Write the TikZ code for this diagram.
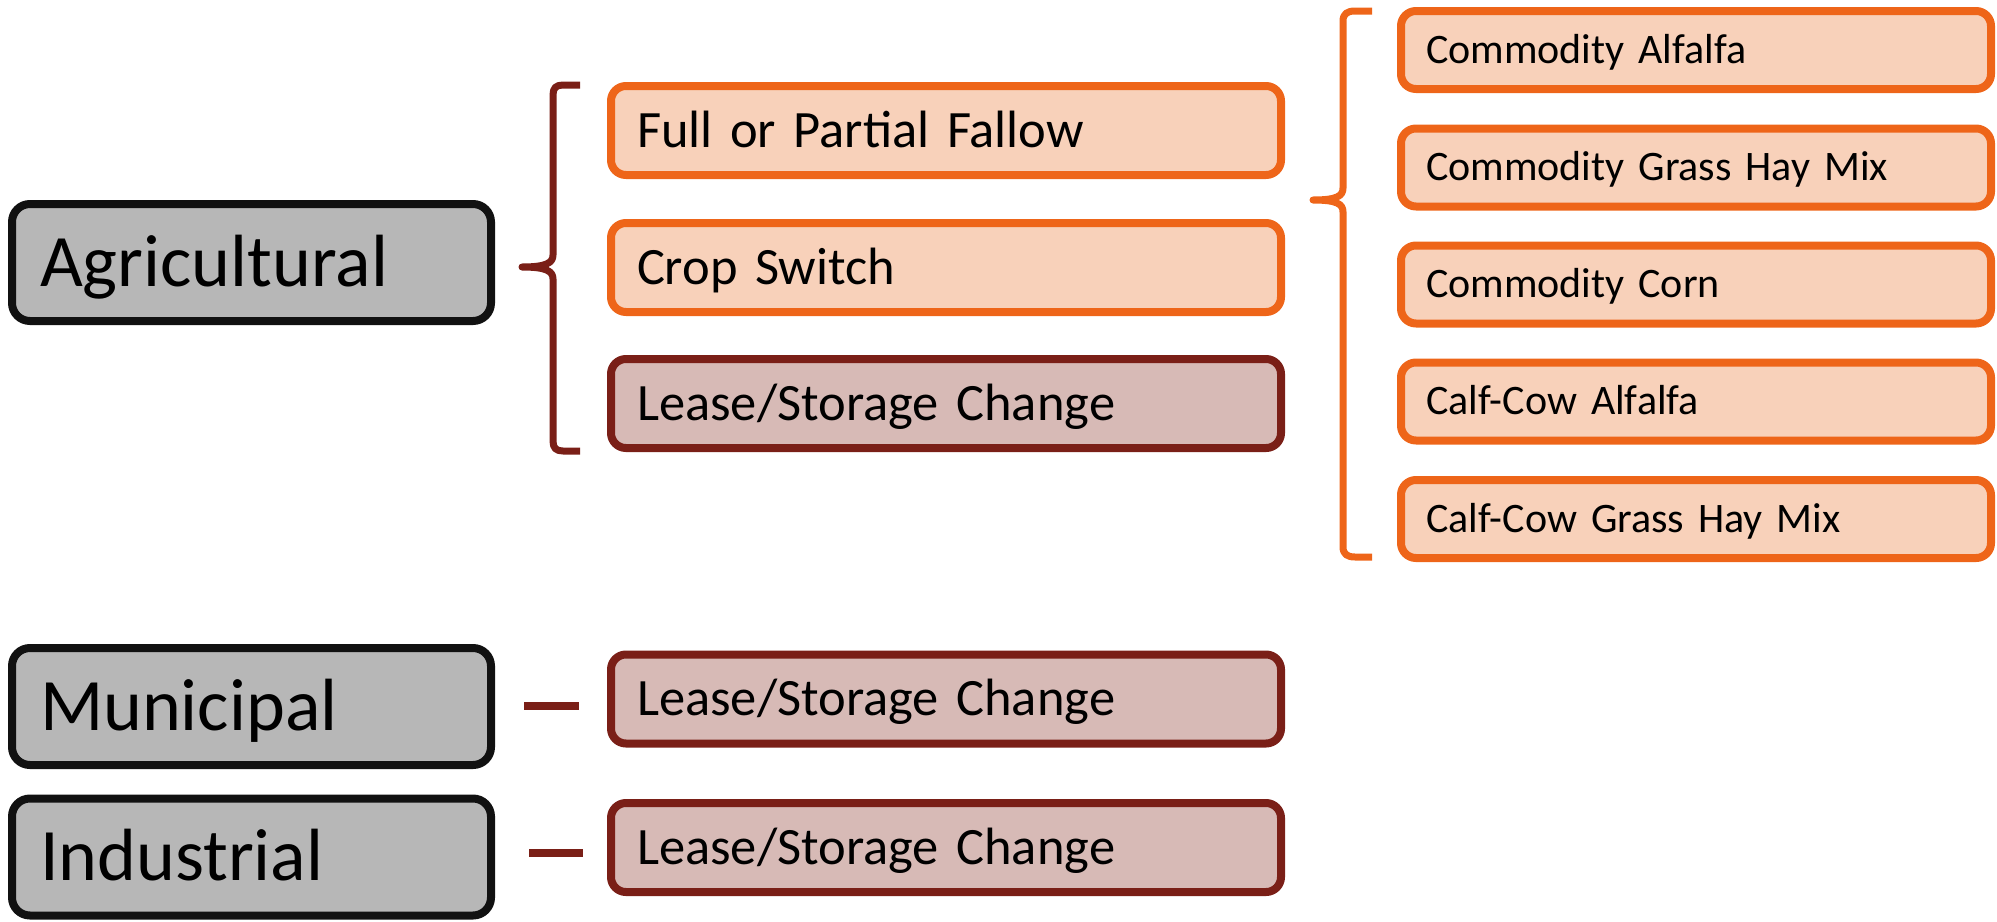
\documentclass[tikz,border=0pt]{standalone}
\usepackage{fontspec}
\setmainfont{Carlito}
\definecolor{grayfill}{HTML}{B7B7B7}
\definecolor{grayline}{HTML}{111111}
\definecolor{orfill}{HTML}{F8D1BA}
\definecolor{orline}{HTML}{EE6519}
\definecolor{drfill}{HTML}{D7BAB6}
\definecolor{drline}{HTML}{7A1F17}
\newcommand{\boxfont}[1]{\fontsize{#1}{#1}\selectfont\spaceskip=0.2em\relax}
\begin{document}
\begin{tikzpicture}[x=1pt,y=-1pt,
  boxbase/.style={draw, rounded corners=15pt, text depth=0pt, inner ysep=0pt, anchor=center,
     execute at begin node={\parindent=0pt\relax}},
  catbox/.style={boxbase, rounded corners=18pt, fill=grayfill, draw=grayline, line width=8pt, inner xsep=28pt, text width=423pt,
     minimum height=117pt, text height=47pt, font=\boxfont{74}},
  midbox/.style={boxbase, line width=8pt, inner xsep=26pt, text width=618pt,
     minimum height=89pt, text height=33pt, font=\boxfont{52.5}},
  orbox/.style={fill=orfill, draw=orline},
  drbox/.style={fill=drfill, draw=drline},
  rbox/.style={boxbase, orbox, line width=8pt, inner xsep=25pt, text width=540pt,
     minimum height=78pt, text height=26.5pt, font=\boxfont{42}},
  brk/.style={line width=7pt, line join=round},
  dashline/.style={draw=drline, line width=8pt}]
\useasboundingbox (0,0) rectangle (1997,921);

% category boxes
\node[catbox] (agr) at (251.5,262.5) {Agricultural};
\node[catbox] (mun) at (251.5,706.5) {Municipal};
\node[catbox] (ind) at (251.5,857) {Industrial};

% middle column
\node[midbox, orbox] (fallow) at (946,130.5) {Full or Partial Fallow};
\node[midbox, orbox] (crop) at (946,267.5) {Crop Switch};
\node[midbox, drbox] (leaseA) at (946,403.5) {Lease/Storage Change};
\node[midbox, drbox] (leaseM) at (946,699) {Lease/Storage Change};
\node[midbox, drbox] (leaseI) at (946,847.5) {Lease/Storage Change};

% right column
\node[rbox] (c1) at (1696,50) {Commodity Alfalfa};
\node[rbox] (c2) at (1696,167.5) {Commodity Grass Hay Mix};
\node[rbox] (c3) at (1696,284.5) {Commodity Corn};
\node[rbox] (c4) at (1696,401.5) {Calf-Cow Alfalfa};
\node[rbox] (c5) at (1696,519) {Calf-Cow Grass Hay Mix};

% dark red bracket
\coordinate (b1top) at (580,85);
\coordinate (b1tip) at (522,267);
\coordinate (b1bot) at (580,451);
\draw[brk, draw=drline] (b1top) -- (563,85) .. controls (556,85) and (553,88) .. (553,95)
  -- (553,255) .. controls (553,263) and (546,267) .. (b1tip)
  .. controls (546,267) and (553,271) .. (553,279)
  -- (553,441) .. controls (553,448) and (556,451) .. (563,451) -- (b1bot);

% orange bracket
\coordinate (b2top) at (1372,11);
\coordinate (b2tip) at (1313,200);
\coordinate (b2bot) at (1372,557);
\draw[brk, draw=orline] (b2top) -- (1355,11) .. controls (1347,11) and (1343,14) .. (1343,21)
  -- (1343,188) .. controls (1343,196) and (1337,200) .. (b2tip)
  .. controls (1337,200) and (1343,204) .. (1343,212)
  -- (1343,547) .. controls (1343,554) and (1347,557) .. (1355,557) -- (b2bot);

% dashes
\coordinate (d1a) at (524,706);
\coordinate (d1b) at (579,706);
\coordinate (d2a) at (529,853);
\coordinate (d2b) at (583,853);
\draw[dashline] (d1a) -- (d1b);
\draw[dashline] (d2a) -- (d2b);
\end{tikzpicture}
\end{document}
